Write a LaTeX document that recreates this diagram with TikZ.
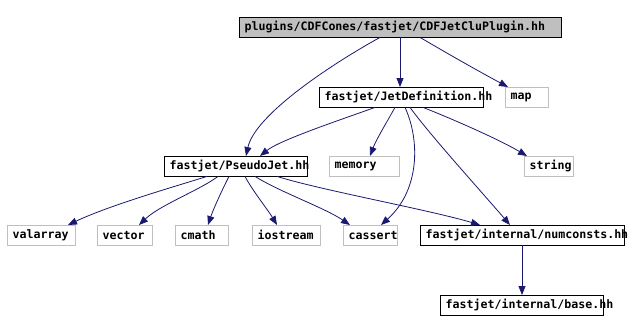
\documentclass[tikz,border=0pt]{standalone}
\usepackage{fontspec}
\newfontfamily\dmono{DejaVu Sans Mono}
\usetikzlibrary{arrows.meta}
\definecolor{edgeblue}{HTML}{191970}
\definecolor{boxgray}{HTML}{BFBFBF}
\newcommand{\fbx}[2]{\makebox[#1pt][l]{\hspace{5.5pt}#2}}
\tikzset{
  filebox/.style={draw=black, inner sep=0pt, minimum height=20pt, anchor=north west,
    font=\dmono\bfseries\fontsize{11.6}{12}\selectfont, text=black},
  extbox/.style={filebox, draw=boxgray},
  topbox/.style={filebox, fill=boxgray},
  dep/.style={draw=edgeblue, line width=0.8pt, -{Triangle[length=9pt,width=7pt]}, fill=none},
}
\begin{document}
\begin{tikzpicture}[x=1pt,y=-1pt]
\useasboundingbox (0,0) rectangle (628,332);
\node[topbox] (top) at (239,17) {\fbx{322}{plugins/CDFCones/fastjet/CDFJetCluPlugin.hh}};
\node[filebox] (jd) at (319,87) {\fbx{164}{fastjet/JetDefinition.hh}};
\node[extbox] (map) at (505,87) {\fbx{43}{map}};
\node[filebox] (pj) at (164,156) {\fbx{143}{fastjet/PseudoJet.hh}};
\node[extbox] (mem) at (329,156) {\fbx{70}{memory}};
\node[extbox] (str) at (524,156) {\fbx{49}{string}};
\node[extbox] (val) at (7,225) {\fbx{68}{valarray}};
\node[extbox] (vec) at (97,225) {\fbx{55}{vector}};
\node[extbox] (cm) at (175,225) {\fbx{53}{cmath}};
\node[extbox] (io) at (252,225) {\fbx{68}{iostream}};
\node[extbox] (cas) at (343,225) {\fbx{54}{cassert}};
\node[filebox] (nc) at (420,225) {\fbx{204}{fastjet/internal/numconsts.hh}};
\node[filebox] (base) at (440,295) {\fbx{163}{fastjet/internal/base.hh}};

% top
\draw[dep] ([xshift=141pt]top.south west) .. controls (330,65) and (255,115) .. ([xshift=82pt]pj.north west);
\draw[dep] ([xshift=161pt]top.south west) -- ([xshift=81pt]jd.north west);
\draw[dep] ([xshift=181pt]top.south west) .. controls (450,55) and (480,72) .. ([xshift=3pt]map.north west);
% JetDefinition
\draw[dep] ([xshift=56pt]jd.south west) .. controls (340,120) and (280,140) .. ([xshift=96pt]pj.north west);
\draw[dep] ([xshift=76pt]jd.south west) .. controls (388,120) and (376,140) .. ([xshift=41pt]mem.north west);
\draw[dep] ([xshift=86pt]jd.south west) .. controls (420,140) and (420,190) .. ([xshift=38pt]cas.north west);
\draw[dep] ([xshift=91pt]jd.south west) .. controls (430,135) and (480,190) .. ([xshift=90pt]nc.north west);
\draw[dep] ([xshift=104pt]jd.south west) .. controls (455,120) and (500,140) .. ([xshift=3pt]str.north west);
% PseudoJet
\draw[dep] ([xshift=43pt]pj.south west) .. controls (180,185) and (110,205) .. ([xshift=61pt]val.north west);
\draw[dep] ([xshift=54pt]pj.south west) .. controls (200,190) and (160,205) .. ([xshift=42pt]vec.north west);
\draw[dep] ([xshift=65pt]pj.south west) .. controls (222,190) and (213,210) .. ([xshift=33pt]cm.north west);
\draw[dep] ([xshift=81pt]pj.south west) .. controls (252,190) and (268,210) .. ([xshift=25pt]io.north west);
\draw[dep] ([xshift=91pt]pj.south west) .. controls (280,192) and (325,208) .. ([xshift=7pt]cas.north west);
\draw[dep] ([xshift=113pt]pj.south west) .. controls (320,190) and (430,210) .. ([xshift=60pt]nc.north west);
% numconsts
\draw[dep] ([xshift=102pt]nc.south west) -- ([xshift=82pt]base.north west);
\end{tikzpicture}
\end{document}
